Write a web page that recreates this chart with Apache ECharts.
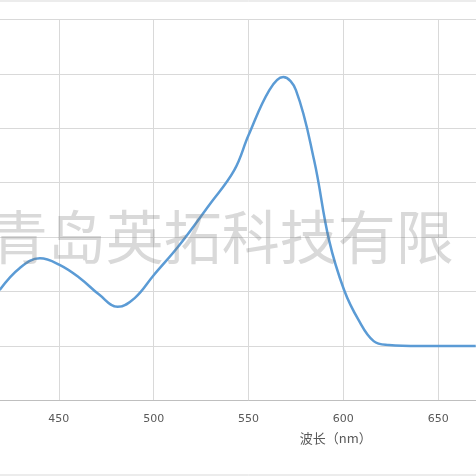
<!DOCTYPE html>
<html><head><meta charset="utf-8">
<script src="https://cdn.jsdelivr.net/npm/echarts@6/dist/echarts.min.js"></script>
<style>html,body{margin:0;padding:0;background:#fff;overflow:hidden;width:476px;height:476px}#c{position:absolute;left:-35.7px;top:0;width:569px;height:476px}</style>
</head><body><div id="c"></div>
<script>
const wavelengths = [418.8,429.3,440,450.4,461,471.4,481,490,500,513.5,529.3,542.5,550,561,568.3,575,584.6,592.5,600.4,608,616,624,640,669.8];
const intensity   = [2.03,2.43,2.61,2.49,2.25,1.94,1.72,1.88,2.3,2.85,3.59,4.23,4.87,5.70,5.94,5.70,4.41,2.94,2.03,1.48,1.09,1.02,1.0,1.0];
const chart = echarts.init(document.getElementById('c'));
const off = 35.7;
chart.setOption({
  animation:false,
  grid:{left:0,right:0,top:19.3,bottom:75.5,containLabel:false,outerBoundsMode:'none'},
  xAxis:{type:'value',min:400,max:700,interval:50,
    axisLine:{lineStyle:{color:'#bfbfbf',width:1}},axisTick:{show:false},
    axisLabel:{color:'#595959',fontSize:11,margin:13,fontFamily:'DejaVu Sans'},
    splitLine:{show:true,lineStyle:{color:'#d9d9d9'}}},
  yAxis:{type:'value',min:0,max:7,interval:1,axisLabel:{show:false},axisLine:{show:false},axisTick:{show:false},
    splitLine:{lineStyle:{color:'#d9d9d9'}}},
  series:[{type:'line',data:wavelengths.map((w,i)=>[w,intensity[i]]),smooth:0.4,showSymbol:false,
    lineStyle:{color:'#5b9bd5',width:2.5}}],
  graphic:[
    {type:'line',shape:{x1:0,y1:1,x2:569,y2:1},style:{stroke:'#d9d9d9',lineWidth:1}},
    {type:'line',shape:{x1:0,y1:475,x2:569,y2:475},style:{stroke:'#d9d9d9',lineWidth:1}},
    {type:'text',left:300+off,top:432,style:{text:'波长（nm）',fill:'#595959',font:'13px "Noto Sans CJK SC"'}},
    {type:'text',left:-10+off,top:208,z:100,style:{text:'青岛英拓科技有限',fill:'rgba(120,120,120,0.28)',font:'58px "Noto Sans CJK SC"'}}
  ]
});
</script></body></html>
